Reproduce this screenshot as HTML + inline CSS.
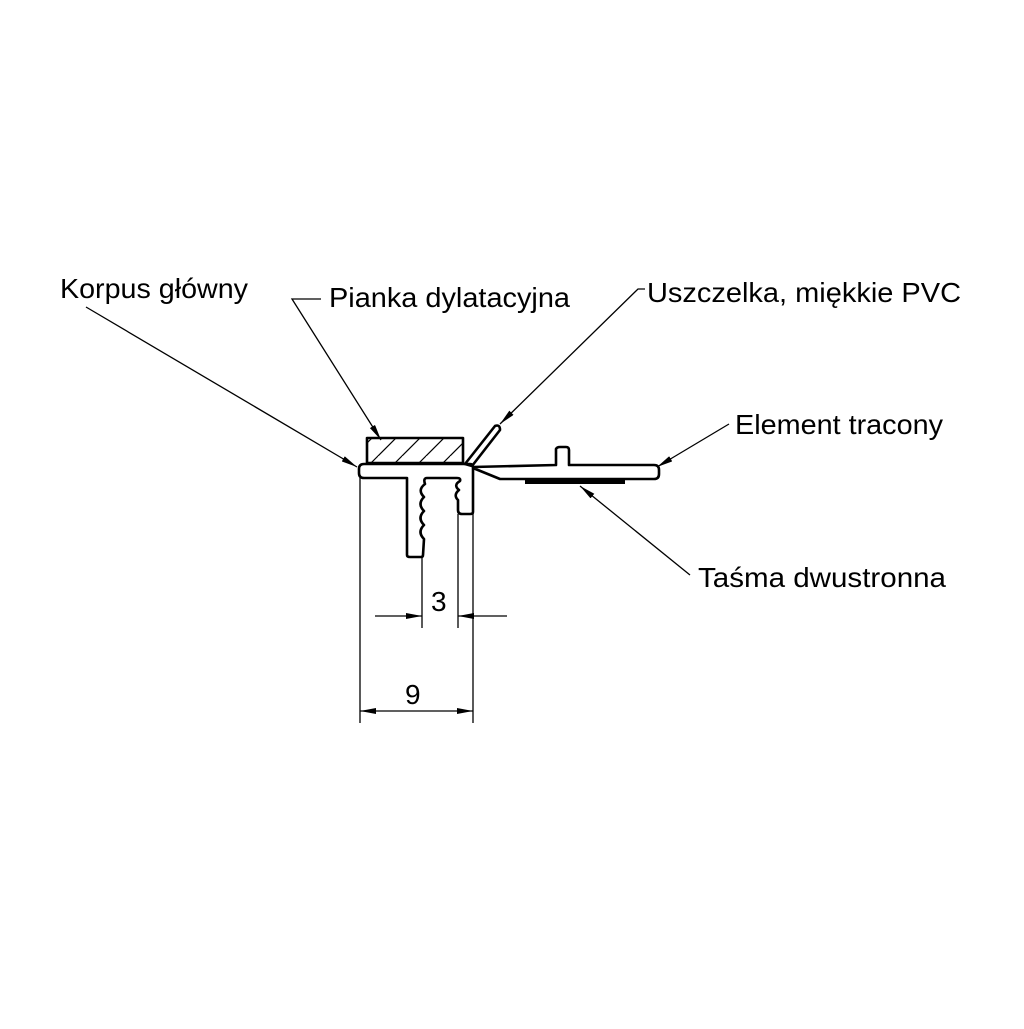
<!DOCTYPE html>
<html><head><meta charset="utf-8"><style>html,body{margin:0;padding:0;background:#fff}</style></head>
<body>
<svg width="1024" height="1024" viewBox="0 0 1024 1024" xmlns="http://www.w3.org/2000/svg">
<defs>
<marker id="a" viewBox="0 0 16 6" refX="16" refY="3" markerWidth="16" markerHeight="6" markerUnits="userSpaceOnUse" orient="auto"><path d="M0,0 L16,3 L0,6 z" fill="#000"/></marker>
<pattern id="h" patternUnits="userSpaceOnUse" width="24" height="24"><path d="M-6,24 L18,0 M6,36 L30,12 M-18,12 L6,-12" stroke="#000" stroke-width="1.2"/></pattern>
</defs>
<g font-family="Liberation Sans, Arial, sans-serif" font-size="28" fill="#000">
<text x="60" y="298" textLength="188" lengthAdjust="spacingAndGlyphs">Korpus główny</text>
<text x="329" y="307" textLength="241" lengthAdjust="spacingAndGlyphs">Pianka dylatacyjna</text>
<text x="647" y="302" textLength="314" lengthAdjust="spacingAndGlyphs">Uszczelka, miękkie PVC</text>
<text x="735" y="434" textLength="208" lengthAdjust="spacingAndGlyphs">Element tracony</text>
<text x="698" y="587" textLength="248" lengthAdjust="spacingAndGlyphs">Taśma dwustronna</text>
</g>
<g stroke="#000" stroke-width="1.3" fill="none">
<line x1="86" y1="307" x2="357" y2="467" marker-end="url(#a)"/>
<polyline points="321,299 292,299 381,440" marker-end="url(#a)"/>
<polyline points="645,289 638,289 500,424" marker-end="url(#a)"/>
<polyline points="729,424 657,467" marker-end="url(#a)"/>
<polyline points="690,575 580,486" marker-end="url(#a)"/>
<line x1="360" y1="478" x2="360" y2="723"/>
<line x1="473" y1="478" x2="473" y2="723"/>
<line x1="422" y1="557" x2="422" y2="628"/>
<line x1="458" y1="514" x2="458" y2="628"/>
<line x1="375" y1="616" x2="422" y2="616" marker-end="url(#a)"/>
<line x1="507" y1="616" x2="458" y2="616" marker-end="url(#a)"/>
<line x1="416" y1="711" x2="360" y2="711" marker-end="url(#a)"/>
<line x1="416" y1="711" x2="473" y2="711" marker-end="url(#a)"/>
</g>
<g font-family="Liberation Sans, DejaVu Sans, sans-serif" font-size="28" fill="#000">
<text x="431" y="611">3</text>
<text x="405" y="704">9</text>
</g>
<g stroke="#000" stroke-width="2.6" fill="none" stroke-linejoin="round">
<rect x="367" y="438" width="96" height="25" fill="url(#h)"/>
<path d="M364,464 L470,464 Q473,464 473,467 L473,512 Q473,514 470,514 L462,514 Q458,514 458,510 L458,500 Q453,495 459,490 Q453,485 460,481 Q461,478 457,478 L427,478 Q423,478 425,484 Q417,490 424,497 Q417,504 424,511 Q417,518 424,525 Q417,532 424,539 L423,555 Q423,557 421,557 L410,557 Q407,557 407,555 L407,478 L364,478 Q359,478 359,473 L359,469 Q359,464 364,464 Z"/>
<path d="M465,464 L495,426 Q500,424 500,430 L472,466 Z"/>
<path d="M473,467 L556,465 L556,449 Q557,447 560,447 L566,447 Q569,447 569,450 L569,465 L654,465 Q659,465 659,470 L659,474 Q659,479 654,479 L500,479 L473,468"/>
</g>
<rect x="525" y="479" width="100" height="5" fill="#000"/>
</svg>
</body></html>
